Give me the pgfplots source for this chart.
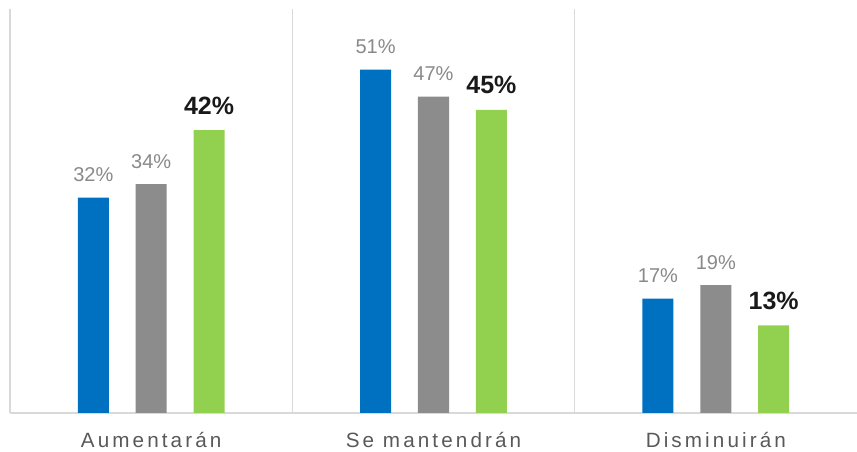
\documentclass[border=0pt]{standalone}
\usepackage{fontspec}
\setmainfont{Liberation Sans}
\usepackage{pgfplots}
\pgfplotsset{compat=1.18}
\definecolor{sBlue}{RGB}{0,112,192}
\definecolor{sGray}{RGB}{140,140,140}
\definecolor{sGreen}{RGB}{146,208,80}
\definecolor{lblGray}{RGB}{137,137,137}
\definecolor{gridGray}{RGB}{217,217,217}
\definecolor{catGray}{RGB}{89,89,89}

\begin{document}
\begin{tikzpicture}
\begin{axis}[
    name=ax,
    ybar,
    scale only axis,
    width=635.25pt, height=303pt,
    xmin=-0.5, xmax=2.5,
    ymin=0, ymax=60,
    axis x line*=bottom,
    axis y line*=left,
    axis line style={gridGray, line width=1.2pt},
    ytick=\empty,
    xtick={0,1,2},
    xticklabels={Aumentarán,Se mantendrán,Disminuirán},
    major tick length=0pt,
    x tick label style={anchor=base, yshift=-26.25pt, text=catGray,
        font=\fontsize{15.5pt}{18pt}\selectfont\addfontfeatures{LetterSpace=15}},
    extra x ticks={0.5,1.5},
    extra x tick labels={},
    extra x tick style={grid=major, major grid style={gridGray, line width=0.9pt}},
    bar width=0.11,
    /pgf/number format/assume math mode=true,
    nodes near coords={\pgfmathprintnumber{\pgfplotspointmeta}\%},
    every node near coord/.append style={anchor=base, yshift=12pt},
    clip=false,
]
\addplot[bar shift=-0.205, fill=sBlue, draw=none,
    every node near coord/.append style={text=lblGray, font=\fontsize{15pt}{18pt}\selectfont}]
    coordinates {(0,32) (1,51) (2,17)};
\addplot[bar shift=0, fill=sGray, draw=none,
    every node near coord/.append style={text=lblGray, font=\fontsize{15pt}{18pt}\selectfont}]
    coordinates {(0,34) (1,47) (2,19)};
\addplot[bar shift=0.205, fill=sGreen, draw=none,
    every node near coord/.append style={text=black!90, font=\bfseries\fontsize{18.75pt}{22pt}\selectfont}]
    coordinates {(0,42) (1,45) (2,13)};
\end{axis}
\pgfresetboundingbox
\path ([xshift=-7.5pt, yshift=-29.25pt]ax.south west) rectangle ([yshift=6.75pt]ax.north east);
\end{tikzpicture}
\end{document}
